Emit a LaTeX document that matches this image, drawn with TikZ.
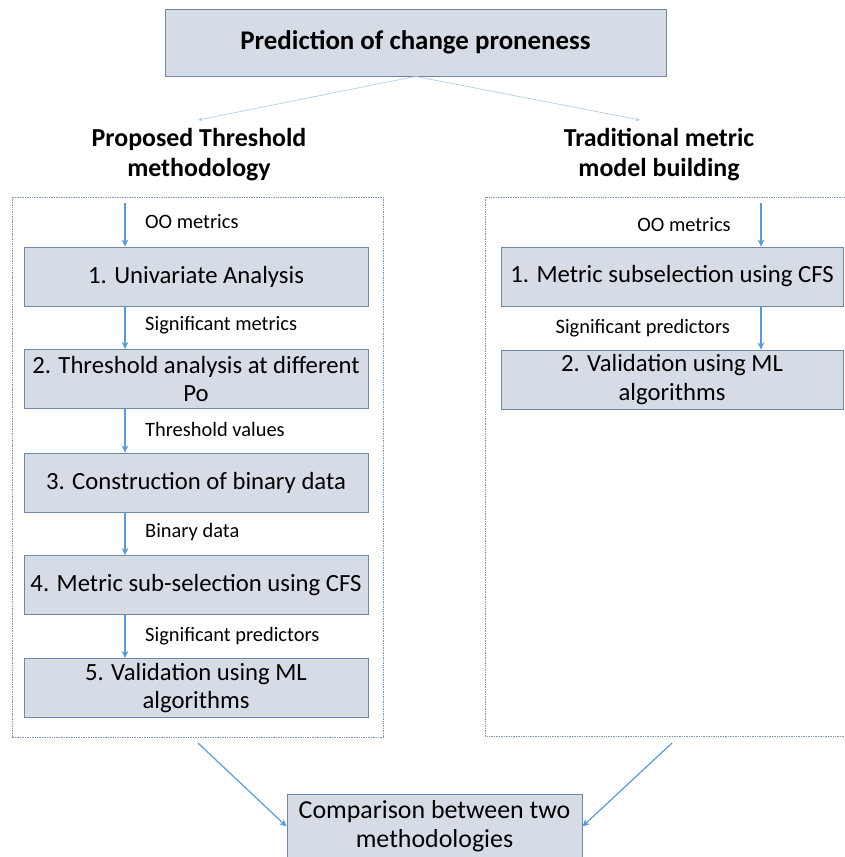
\documentclass[tikz,border=0pt]{standalone}
\usepackage{fontspec}
\setmainfont{Carlito}
\usetikzlibrary{arrows.meta}
\definecolor{boxfill}{HTML}{D6DCE5}
\definecolor{boxline}{HTML}{7088A8}
\definecolor{flowblue}{HTML}{5B9BD5}
\definecolor{thinblue}{HTML}{A7C8E2}
\definecolor{frameline}{HTML}{7F97B5}
\tikzset{
  stepbox/.style={draw=boxline, line width=0.8bp, fill=boxfill, inner sep=0pt,
    align=center, font=\fontsize{24.8}{29}\selectfont},
  leftbox/.style={stepbox, minimum width=344bp, minimum height=59bp},
  rightbox/.style={stepbox, minimum width=342bp, minimum height=59bp},
  flow/.style={draw=flowblue, line width=1.2bp, -{Stealth[length=7bp,width=6.5bp,inset=2bp]}},
  thin/.style={draw=thinblue, line width=0.6bp, -{Stealth[length=4bp,width=3.5bp,inset=1bp]}},
  frame/.style={draw=frameline, line width=0.7bp, densely dotted},
  lbl/.style={font=\fontsize{20.5}{24}\selectfont, inner sep=0pt},
  head/.style={font=\bfseries\fontsize{26}{30}\selectfont, align=center, inner sep=0pt},
}
\begin{document}
\begin{tikzpicture}[x=1bp,y=-1bp]
\useasboundingbox (0,0) rectangle (845,857);
\clip (0,0) rectangle (845,857);

% top box and the two branches
\node[draw=boxline, line width=0.8bp, fill=boxfill, minimum width=501bp, minimum height=67bp,
  inner sep=0pt, font=\bfseries\fontsize{27}{32}\selectfont] (title) at (415.5,42.5)
  {Prediction of change proneness};
\coordinate (lhead) at (198,120);
\coordinate (rhead) at (640,120);
\draw[thin] (title.south) -- (lhead);
\draw[thin] (title.south) -- (rhead);

\node[head] (hl) at (199,155) {Proposed Threshold\\methodology};
\node[head] (hr) at (659,155) {Traditional metric\\model building};

% dotted frames
\draw[frame] (12,197) rectangle (383,737);
\draw[frame] (485,197) rectangle (850,736);

% left column
\node[leftbox] (l1) at (196,276.5) {1. Univariate Analysis};
\node[leftbox] (l2) at (196,379) {2. Threshold analysis at different\\Po};
\node[leftbox] (l3) at (196,482.5) {3. Construction of binary data};
\node[leftbox] (l4) at (196,585) {4. Metric sub-selection using CFS};
\node[leftbox] (l5) at (196,688) {5. Validation using ML\\algorithms};

\coordinate (lx) at (125,0);
\coordinate (lin) at (125,203);
\draw[flow] (lin) -- (l1.north -| lx);
\draw[flow] (l1.south -| lx) -- (l2.north -| lx);
\draw[flow] (l2.south -| lx) -- (l3.north -| lx);
\draw[flow] (l3.south -| lx) -- (l4.north -| lx);
\draw[flow] (l4.south -| lx) -- (l5.north -| lx);

\node[lbl, anchor=west] (t1) at (145,222) {OO metrics};
\node[lbl, anchor=west] (t2) at (145,325) {Significant metrics};
\node[lbl, anchor=west] (t3) at (145,429) {Threshold values};
\node[lbl, anchor=west] (t4) at (145,532) {Binary data};
\node[lbl, anchor=west] (t5) at (145,636) {Significant predictors};

% right column
\node[rightbox] (r1) at (672,276.5) {1. Metric subselection using CFS};
\node[rightbox] (r2) at (672,379.5) {2. Validation using ML\\algorithms};

\coordinate (rx) at (761,0);
\coordinate (rin) at (761,203);
\draw[flow] (rin) -- (r1.north -| rx);
\draw[flow] (r1.south -| rx) -- (r2.north -| rx);

\node[lbl] (u1) at (684,225) {OO metrics};
\node[lbl, anchor=east] (u2) at (730,328) {Significant predictors};

% comparison
\node[stepbox, minimum width=295bp, minimum height=65bp, font=\fontsize{26}{29.5}\selectfont]
  (cmp) at (434.5,826.5) {Comparison between two\\methodologies};
\coordinate (lout) at (198,743);
\coordinate (rout) at (672,743);
\draw[flow] (lout) -- (cmp.west);
\draw[flow] (rout) -- (cmp.east);
\end{tikzpicture}
\end{document}
